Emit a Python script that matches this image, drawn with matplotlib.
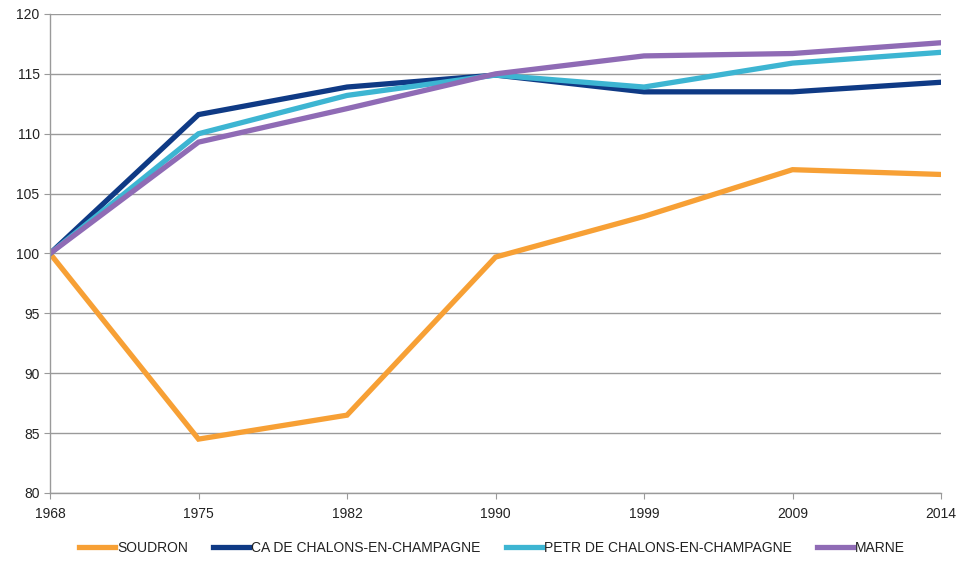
import matplotlib
matplotlib.use("Agg")
import matplotlib.pyplot as plt
from matplotlib import font_manager

years = ["1968", "1975", "1982", "1990", "1999", "2009", "2014"]
soudron = [100, 84.5, 86.5, 99.7, 103.1, 107.0, 106.6]
ca_chalons = [100, 111.6, 113.9, 114.9, 113.5, 113.5, 114.3]
petr_chalons = [100, 110.0, 113.2, 114.9, 113.9, 115.9, 116.8]
marne = [100, 109.3, 112.1, 115.0, 116.5, 116.7, 117.6]

series_names = ["SOUDRON", "CA DE CHALONS-EN-CHAMPAGNE", "PETR DE CHALONS-EN-CHAMPAGNE", "MARNE"]
colors = ["#F7A035", "#0F3A85", "#3DB5D2", "#8F6BB5"]

names = {f.name for f in font_manager.fontManager.ttflist}
fam = "Liberation Sans Narrow" if "Liberation Sans Narrow" in names else "Liberation Sans"
plt.rcParams["font.family"] = [fam, "DejaVu Sans"]

fig = plt.figure(figsize=(9.57, 5.63), dpi=100)
ax = fig.add_axes([50/957, (563-493)/563, (941-50)/957, (493-14)/563])

x = list(range(len(years)))
for vals, c, n in zip([soudron, ca_chalons, petr_chalons, marne], colors, series_names):
    ax.plot(x, vals, color=c, lw=3.8, label=n, solid_joinstyle="miter")

ax.set_xlim(0, len(years) - 1)
ax.set_ylim(80, 120)
ax.set_yticks(range(80, 121, 5))
ax.set_xticks(x)
ax.set_xticklabels(years)
ax.grid(axis="y", color="#9a9a9a", lw=1)
ax.set_axisbelow(True)
for s in ["top", "right"]:
    ax.spines[s].set_visible(False)
for s in ["left", "bottom"]:
    ax.spines[s].set_color("#9a9a9a")
    ax.spines[s].set_linewidth(1)
ax.tick_params(axis="both", colors="#9a9a9a", labelcolor="#222222", labelsize=10, length=4)
ax.tick_params(axis="x", pad=6)

fig.legend(loc="center", bbox_to_anchor=(492/957, 1 - 548/563), ncol=4, frameon=False,
           fontsize=10, handlelength=2.6, handletextpad=0.15, columnspacing=1.8,
           labelcolor="#222222", borderpad=0)

fig.savefig("out.png", dpi=100)
